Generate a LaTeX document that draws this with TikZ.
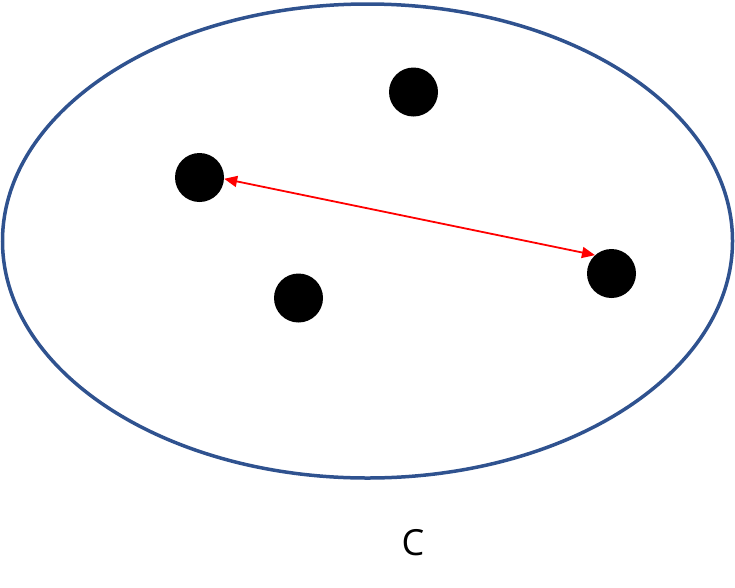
\documentclass[tikz,border=0pt]{standalone}
\usepackage{fontspec}
\setmainfont{Open Sans}
\usetikzlibrary{arrows.meta}
\definecolor{ellblue}{HTML}{2F528F}
\begin{document}
\begin{tikzpicture}[x=1pt,y=-1pt,
  dot/.style={circle,fill=black,inner sep=0pt,minimum size=49pt},
  link/.style={draw=red,line width=1.8pt,{Triangle[length=13pt,width=11pt]}-{Triangle[length=13pt,width=11pt]}}]
\useasboundingbox (0,0) rectangle (735,587);
\draw[ellblue,line width=3.5pt] (367.5,241) ellipse [x radius=365, y radius=237];
\node[dot] (d1) at (413.5,92) {};
\node[dot] (d2) at (199.5,177.5) {};
\node[dot] (d3) at (298.5,298) {};
\node[dot] (d4) at (611.5,273.5) {};
\draw[link] (d2.-3) -- (d4.132);
\node[font=\fontsize{36}{40}\selectfont] (c) at (413,543) {C};
\end{tikzpicture}
\end{document}
